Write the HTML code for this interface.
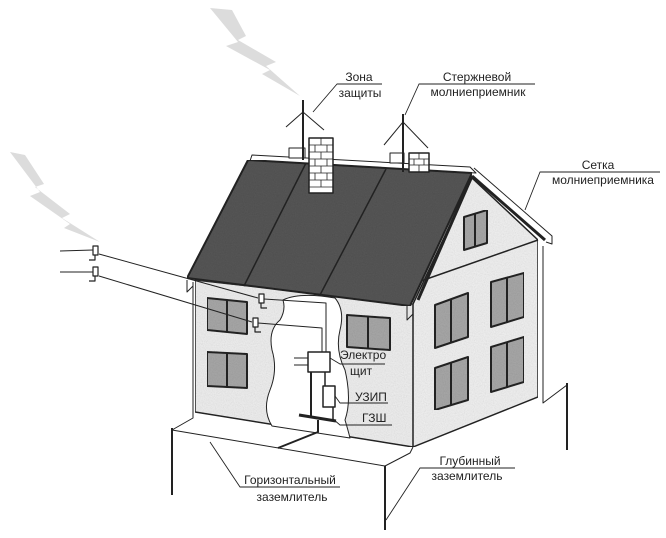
<!DOCTYPE html>
<html><head><meta charset="utf-8"><style>
html,body{margin:0;padding:0;background:#fff;}
svg{display:block;}
text{font-family:"Liberation Sans",Arial,sans-serif;font-size:12px;fill:#222;}
</style></head><body>
<svg width="666" height="538" viewBox="0 0 666 538" xmlns="http://www.w3.org/2000/svg">
<defs>
<filter id="nz" x="0" y="0" width="100%" height="100%">
<feTurbulence type="fractalNoise" baseFrequency="0.9" numOctaves="1" seed="3"/>
<feColorMatrix type="saturate" values="0"/>
<feComponentTransfer><feFuncA type="table" tableValues="0 0.35"/></feComponentTransfer>
<feComposite in2="SourceGraphic" operator="in"/>
<feBlend in="SourceGraphic" mode="multiply"/>
</filter>
</defs>
<g stroke="#222" stroke-linejoin="round">
<polygon points="210,8 232,10 246,36 238,40 276,62 266,66 300,96 262,74 270,70 226,46 238,42" fill="#dcdcdc" stroke="none"/>
<polygon points="10,152 25,155 44,184 35,187 70,214 62,218 100,242 64,228 70,224 30,196 40,192" fill="#dcdcdc" stroke="none"/>

<polygon points="252,155 470,167 476,173 250,161" fill="#fff" stroke-width="1"/>
<rect x="289" y="148" width="16" height="10" fill="#fff" stroke-width="1"/>
<rect x="390" y="153" width="14" height="10" fill="#fff" stroke-width="1"/>

<polygon points="195,280 413,304 413,447 195,412" fill="#efefef" filter="url(#nz)" stroke-width="1.5"/>
<polygon points="413,304 472,178 538,240 538,397 413,447" fill="#f1f1f1" filter="url(#nz)" stroke-width="1.5"/>
<line x1="421" y1="281" x2="538" y2="240" stroke-width="1.5"/>

<polygon points="248,160 472,173 410,306 187,278" fill="#565656" filter="url(#nz)" stroke-width="2"/>
<line x1="306" y1="163" x2="244" y2="286" stroke-width="1.5"/>
<line x1="386" y1="169" x2="320" y2="295" stroke-width="1.5"/>
<line x1="472" y1="176" x2="545" y2="240" stroke-width="3"/>
<polyline points="474,168 552,236 552,244 546,242" fill="none" stroke-width="1"/>
<line x1="472" y1="176" x2="418" y2="300" stroke-width="3"/>

<polyline points="193,282 193,418 172,430" fill="none" stroke-width="1"/>
<polyline points="187,280 187,292 193,286" fill="none" stroke-width="1"/>
<polyline points="413,447 410,453 385,466" fill="none" stroke-width="1"/>
<polyline points="543,246 543,403 567,385" fill="none" stroke-width="1"/>
<polyline points="407,305 407,320 413,314" fill="none" stroke-width="1"/>

<rect x="309" y="138" width="24" height="55" fill="#fff" stroke-width="1.5"/>
<g stroke-width="0.8">
<line x1="309" y1="145" x2="333" y2="145"/><line x1="309" y1="152" x2="333" y2="152"/><line x1="309" y1="159" x2="333" y2="159"/><line x1="309" y1="166" x2="333" y2="166"/><line x1="309" y1="173" x2="333" y2="173"/><line x1="309" y1="180" x2="333" y2="180"/><line x1="309" y1="187" x2="333" y2="187"/>
<line x1="321" y1="138" x2="321" y2="145"/><line x1="315" y1="145" x2="315" y2="152"/><line x1="327" y1="145" x2="327" y2="152"/><line x1="321" y1="152" x2="321" y2="159"/><line x1="315" y1="159" x2="315" y2="166"/><line x1="327" y1="159" x2="327" y2="166"/><line x1="321" y1="166" x2="321" y2="173"/><line x1="315" y1="173" x2="315" y2="180"/><line x1="327" y1="173" x2="327" y2="180"/><line x1="321" y1="180" x2="321" y2="187"/>
</g>
<rect x="409" y="153" width="20" height="19" fill="#fff" stroke-width="1.5"/>
<g stroke-width="0.8"><line x1="409" y1="159" x2="429" y2="159"/><line x1="409" y1="165" x2="429" y2="165"/><line x1="419" y1="153" x2="419" y2="159"/><line x1="414" y1="159" x2="414" y2="165"/><line x1="424" y1="159" x2="424" y2="165"/><line x1="419" y1="165" x2="419" y2="172"/></g>

<line x1="303" y1="100" x2="303" y2="160" stroke-width="2"/>
<line x1="303" y1="112" x2="286" y2="127" stroke-width="1"/>
<line x1="303" y1="112" x2="324" y2="130" stroke-width="1"/>
<line x1="403" y1="114" x2="403" y2="172" stroke-width="2"/>
<line x1="403" y1="122" x2="384" y2="145" stroke-width="1"/>
<line x1="403" y1="122" x2="428" y2="148" stroke-width="1"/>

<g stroke-width="2" fill="#a8a8a8" filter="url(#nz)">
<polygon points="207,298 247,302 247,334 207,330"/>
<polygon points="207,352 247,354 247,388 207,386"/>
<polygon points="347,315 390,318 390,350 347,347"/>
<polygon points="464,217 487,210 487,243 464,250"/>
<polygon points="435,305 468,293 468,337 435,348"/>
<polygon points="491,282 524,273 524,317 491,327"/>
<polygon points="435,368 468,357 468,400 435,410"/>
<polygon points="491,347 524,337 524,382 491,392"/>
</g>
<g stroke-width="2">
<line x1="227" y1="300" x2="227" y2="332"/><line x1="227" y1="353" x2="227" y2="387"/><line x1="368" y1="316" x2="368" y2="348"/>
<line x1="475" y1="214" x2="475" y2="247"/><line x1="451" y1="299" x2="451" y2="342"/><line x1="507" y1="277" x2="507" y2="322"/><line x1="451" y1="362" x2="451" y2="405"/><line x1="507" y1="342" x2="507" y2="387"/>
</g>

<path d="M283,300 Q300,292 335,298 Q345,310 340,330 Q335,350 345,370 Q352,400 345,420 Q348,430 350,438 L272,426 Q262,410 270,390 Q278,370 272,350 Q268,330 280,320 Q286,310 283,300 Z" fill="#fff" stroke-width="1"/>

<g fill="none" stroke-width="1">
<line x1="60" y1="251" x2="93" y2="250"/>
<line x1="99" y1="254" x2="258" y2="298"/>
<line x1="60" y1="272" x2="93" y2="272"/>
<line x1="99" y1="276" x2="252" y2="322"/>
<polyline points="264,299 326,303 326,352"/>
<polyline points="258,323 322,328 322,352"/>
<line x1="294" y1="358" x2="308" y2="358"/>
<line x1="294" y1="365" x2="308" y2="365"/>
</g>
<g fill="#fff" stroke-width="1.2">
<rect x="93" y="246" width="5" height="9"/><rect x="93" y="267" width="5" height="9"/>
<rect x="259" y="294" width="5" height="9"/><rect x="253" y="318" width="5" height="9"/>
</g>
<g fill="none" stroke-width="1.2">
<polyline points="95,255 95,260 89,260"/><polyline points="95,276 95,281 89,281"/>
<polyline points="261,303 261,308 267,308"/><polyline points="255,327 255,332 261,332"/>
</g>

<rect x="308" y="352" width="22" height="20" fill="#fff" stroke-width="1.5"/>
<line x1="311" y1="372" x2="311" y2="416" stroke-width="2"/>
<polyline points="325,372 325,386" fill="none" stroke-width="1.5"/>
<rect x="323" y="386" width="12" height="21" fill="#fff" stroke-width="1.5"/>
<line x1="333" y1="407" x2="333" y2="421" stroke-width="1.5"/>
<line x1="299" y1="415" x2="336" y2="421" stroke-width="3"/>
<polyline points="318,420 318,432 278,448" fill="none" stroke-width="2"/>

<polyline points="172,430 385,466" fill="none" stroke-width="1"/>
<line x1="172" y1="428" x2="172" y2="495" stroke-width="2"/>
<line x1="385" y1="466" x2="385" y2="530" stroke-width="2"/>
<line x1="567" y1="383" x2="567" y2="450" stroke-width="2"/>

<g fill="none" stroke-width="0.9">
<polyline points="382,84 337,84 313,112"/>
<polyline points="535,84 419,84 405,115"/>
<polyline points="660,172 540,172 525,210"/>
<polyline points="385,364 340,364 330,358"/>
<polyline points="388,403 340,403 335,396"/>
<polyline points="392,425 340,425 333,419"/>
<polyline points="340,487 240,487 210,442"/>
<polyline points="515,468 420,468 386,520"/>
</g>
</g>

<text x="359" y="81" text-anchor="middle">Зона</text>
<text x="360" y="97" text-anchor="middle">защиты</text>
<text x="477" y="81" text-anchor="middle">Стержневой</text>
<text x="478" y="96" text-anchor="middle">молниеприемник</text>
<text x="598" y="169" text-anchor="middle">Сетка</text>
<text x="603" y="184" text-anchor="middle">молниеприемника</text>
<text x="340" y="359">Электро</text>
<text x="350" y="375">щит</text>
<text x="355" y="401">УЗИП</text>
<text x="362" y="422">ГЗШ</text>
<text x="290" y="484" text-anchor="middle">Горизонтальный</text>
<text x="292" y="501" text-anchor="middle">заземлитель</text>
<text x="470" y="465" text-anchor="middle">Глубинный</text>
<text x="467" y="480" text-anchor="middle">заземлитель</text>
</svg>
</body></html>
